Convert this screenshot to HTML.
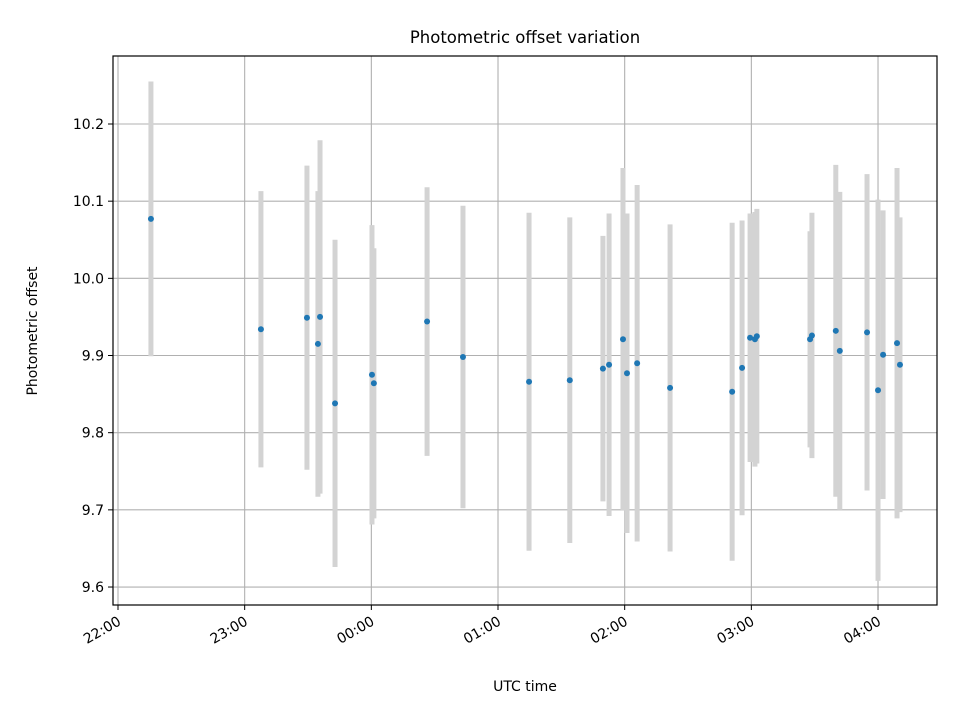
<!DOCTYPE html>
<html><head><meta charset="utf-8"><style>
body{margin:0;background:#fff;}
svg text{font-family:"DejaVu Sans","Liberation Sans",sans-serif;fill:#000;}
</style></head><body>
<svg id="chart" width="960" height="720" xmlns="http://www.w3.org/2000/svg">
<rect width="960" height="720" fill="#fff"/>
<text x="525" y="43" font-size="16.5" text-anchor="middle">Photometric offset variation</text>
<g id="grid"></g>
<g id="bars"></g>
<g id="pts"></g>
<rect x="113" y="56" width="824" height="549" fill="none" stroke="#000" stroke-width="1.2"/>
<g id="xaxis"></g>
<g id="yaxis"></g>
<text x="525" y="691" font-size="14" text-anchor="middle">UTC time</text>
<text transform="translate(37,331) rotate(-90)" font-size="14" text-anchor="middle">Photometric offset</text>
</svg>
<script>
// minutes after 22:00 UTC
const times=[15.6,67.7,89.5,94.7,95.7,102.8,120.3,121.2,146.4,163.4,194.7,214,229.7,232.6,239.2,241.1,245.9,261.5,290.9,295.6,299.4,301.7,302.6,327.8,328.7,340,341.9,354.8,360,362.4,369,370.4];
const values=[10.077,9.934,9.949,9.915,9.950,9.838,9.875,9.864,9.944,9.898,9.866,9.868,9.883,9.888,9.921,9.877,9.890,9.858,9.853,9.884,9.923,9.921,9.925,9.921,9.926,9.932,9.906,9.930,9.855,9.901,9.916,9.888];
const errors=[0.178,0.179,0.197,0.198,0.229,0.212,0.194,0.175,0.174,0.196,0.219,0.211,0.172,0.196,0.222,0.207,0.231,0.212,0.219,0.191,0.161,0.165,0.165,0.140,0.159,0.215,0.206,0.205,0.247,0.187,0.227,0.191];
const xTickMin=[0,60,120,180,240,300,360];
const xTickLabels=["22:00","23:00","00:00","01:00","02:00","03:00","04:00"];
const yTicks=[9.6,9.7,9.8,9.9,10.0,10.1,10.2];
const yTickLabels=["9.6","9.7","9.8","9.9","10.0","10.1","10.2"];

const X=m=>118+m*(126.67/60);
const Y=v=>124+(10.2-v)*771.7;
const NS="http://www.w3.org/2000/svg";
function mk(tag,attrs,parent){const e=document.createElementNS(NS,tag);for(const k in attrs)e.setAttribute(k,attrs[k]);document.getElementById(parent).appendChild(e);return e;}

xTickMin.forEach((m,i)=>{
  const x=X(m);
  const g=mk('line',{x1:x,x2:x,y1:56,y2:605,stroke:'#b0b0b0','stroke-width':1.1},'grid');
  
  
  const t=mk('line',{x1:x,x2:x,y1:605,y2:610,stroke:'#000','stroke-width':1},'xaxis');
  
  
  const l=mk('text',{transform:`translate(${x+4},${624}) rotate(-30)`,'font-size':14,'text-anchor':'end'},'xaxis');
  l.textContent=xTickLabels[i];
  
  
});
yTicks.forEach((v,i)=>{
  const y=Y(v);
  const g=mk('line',{x1:113,x2:937,y1:y,y2:y,stroke:'#b0b0b0','stroke-width':1.1},'grid');
  
  
  const t=mk('line',{x1:108,x2:113,y1:y,y2:y,stroke:'#000','stroke-width':1},'yaxis');
  
  
  const l=mk('text',{x:104,y:y+5,'font-size':14,'text-anchor':'end'},'yaxis');
  l.textContent=yTickLabels[i];
  
  
});
times.forEach((m,i)=>{
  const x=X(m);
  const b=mk('line',{x1:x,x2:x,y1:Y(values[i]+errors[i]),y2:Y(values[i]-errors[i]),stroke:'#d3d3d3','stroke-width':5},'bars');
  
  
});
times.forEach((m,i)=>{
  const p=mk('circle',{cx:X(m),cy:Y(values[i]),r:3,fill:'#1f77b4'},'pts');
  
  
});
</script>
</body></html>
